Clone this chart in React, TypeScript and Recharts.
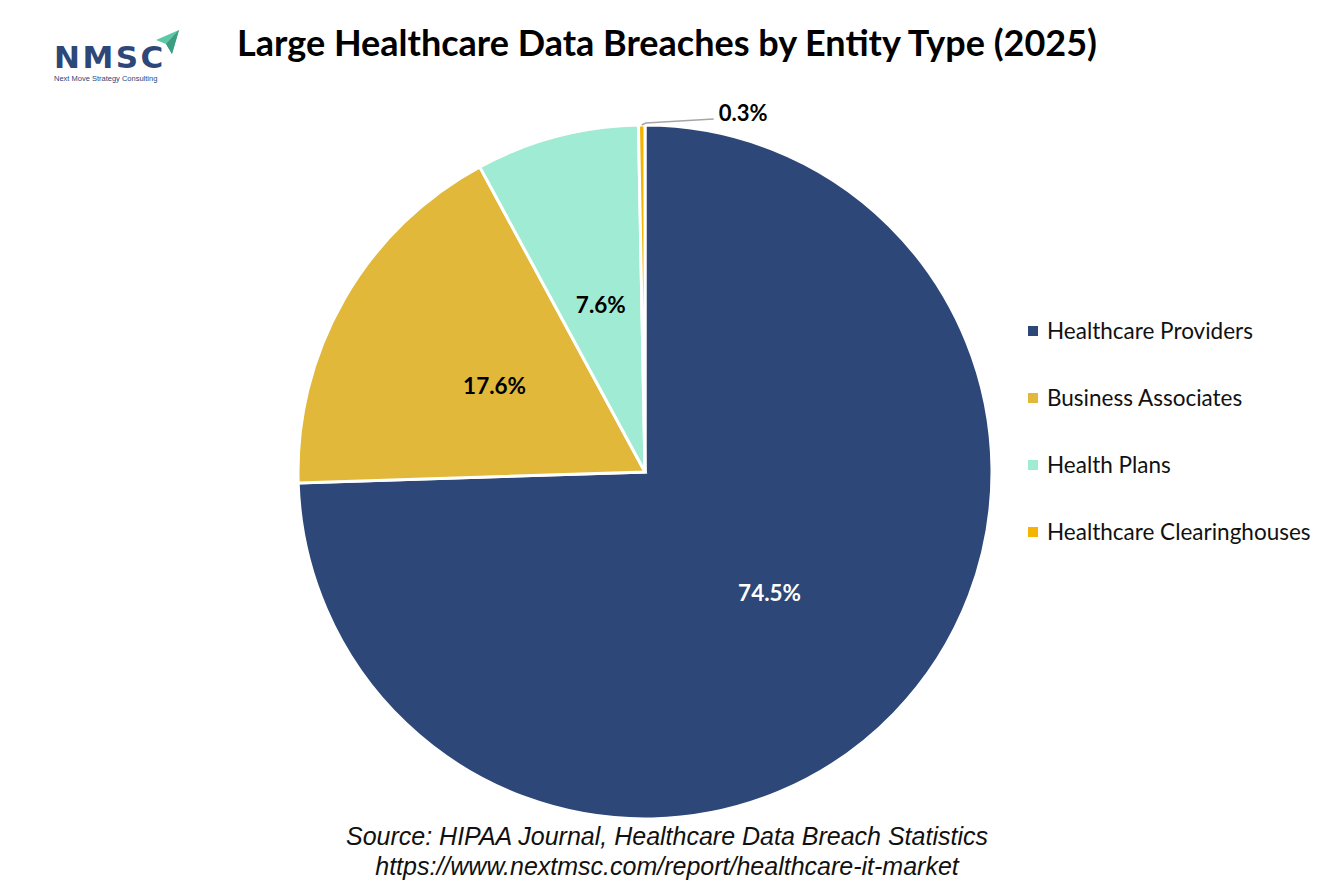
import { PieChart, Pie, Cell, Legend } from "recharts";

document.body.style.margin = "0";

const categories = [
  "Healthcare Providers",
  "Business Associates",
  "Health Plans",
  "Healthcare Clearinghouses",
];
const shares = [74.5, 17.6, 7.6, 0.3];
const colors = ["#2D4778", "#E1B83A", "#A0EBD3", "#F4B400"];

const data = categories.map((name, i) => ({ name, value: shares[i] }));

const RAD = Math.PI / 180;

const renderLabel = (props: any) => {
  const { cx, cy, midAngle, outerRadius, index, value } = props;
  if (index === 3) {
    // tiny slice: label outside with a grey leader
    const sx = cx + outerRadius * Math.cos(-midAngle * RAD);
    const sy = cy + outerRadius * Math.sin(-midAngle * RAD);
    return (
      <g>
        <polyline
          points={`${sx},${sy} ${sx + 4},${sy - 2} ${sx + 72},${sy - 6}`}
          fill="none"
          stroke="#A6A6A6"
          strokeWidth={1.5}
        />
        <text
          x={sx + 77}
          y={sy - 13}
          fill="#000"
          fontSize={22}
          fontWeight={700}
          fontFamily="Lato"
          dominantBaseline="central"
        >
          {value.toFixed(1)}%
        </text>
      </g>
    );
  }
  const r = outerRadius * 0.5;
  const x = cx + r * Math.cos(-midAngle * RAD);
  const y = cy + r * Math.sin(-midAngle * RAD);
  return (
    <text
      x={x}
      y={y}
      fill={index === 0 ? "#fff" : "#000"}
      fontSize={22.5}
      fontWeight={700}
      fontFamily="Lato"
      textAnchor="middle"
      dominantBaseline="central"
    >
      {value.toFixed(1)}%
    </text>
  );
};

const LegendBox = () => (
  <div style={{ fontFamily: "Lato", fontSize: 22.5, color: "#111" }}>
    {categories.map((c, i) => (
      <div
        key={c}
        style={{ display: "flex", alignItems: "center", height: 67 }}
      >
        <span
          style={{
            width: 10,
            height: 10,
            background: colors[i],
            marginRight: 9,
            display: "inline-block",
          }}
        />
        {c}
      </div>
    ))}
  </div>
);

export default function App() {
  return (
    <div
      style={{
        position: "relative",
        width: 1334,
        height: 889,
        background: "#fff",
        overflow: "hidden",
      }}
    >
      {/* logo */}
      <svg
        width={160}
        height={70}
        style={{ position: "absolute", left: 48, top: 24 }}
      >
        <polygon points="108,16 131,6 124,30 118,20" fill="#5DC7A6" />
        <polygon points="118,20 124,30 131,6" fill="#3E9C80" />
        <text
          x={6}
          y={44}
          fontFamily="DejaVu Sans"
          fontWeight={700}
          fontSize={31}
          letterSpacing={2.5}
          fill="#2D4778"
        >
          NMSC
        </text>
        <text x={6} y={57} fontFamily="Liberation Sans" fontSize={7.5} fill="#2D4778">
          Next Move Strategy Consulting
        </text>
      </svg>

      <div
        style={{
          position: "absolute",
          left: 0,
          width: 1334,
          top: 20,
          textAlign: "center",
          fontFamily: "Lato",
          fontWeight: 700,
          fontSize: 36,
          color: "#000",
        }}
      >
        Large Healthcare Data Breaches by Entity Type (2025)
      </div>

      <div style={{ position: "absolute", left: 0, top: 0 }}>
        <PieChart width={1334} height={889}>
          <Pie
            data={data}
            dataKey="value"
            nameKey="name"
            cx={640}
            cy={467}
            outerRadius={347}
            startAngle={90}
            endAngle={-270}
            stroke="#fff"
            strokeWidth={3}
            label={renderLabel}
            labelLine={false}
            isAnimationActive={false}
          >
            {data.map((d, i) => (
              <Cell key={d.name} fill={colors[i]} />
            ))}
          </Pie>
          <Legend
            content={() => <LegendBox />}
            wrapperStyle={{ position: "absolute", left: 1028, top: 297, width: 306 }}
          />
        </PieChart>
      </div>

      <div
        style={{
          position: "absolute",
          left: 0,
          width: 1334,
          top: 821,
          textAlign: "center",
          fontFamily: "Liberation Sans",
          fontStyle: "italic",
          fontSize: 25,
          lineHeight: "30px",
          color: "#111",
        }}
      >
        Source: HIPAA Journal, Healthcare Data Breach Statistics
        <br />
        https://www.nextmsc.com/report/healthcare-it-market
      </div>
    </div>
  );
}
